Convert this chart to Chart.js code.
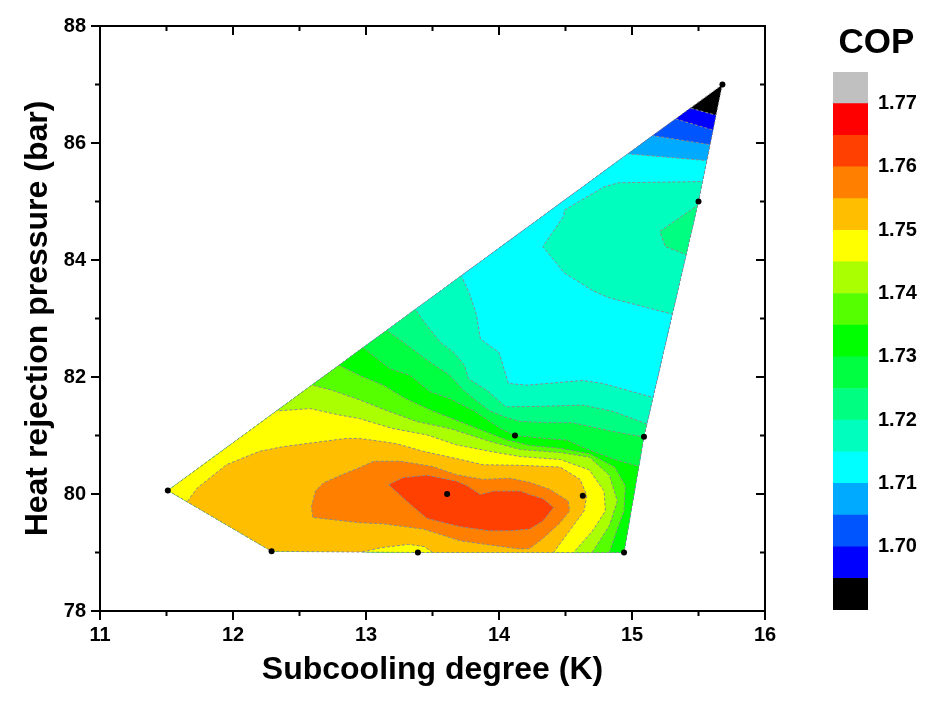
<!DOCTYPE html>
<html>
<head>
<meta charset="utf-8">
<title>COP contour</title>
<script src="https://cdn.jsdelivr.net/npm/chart.js@4"></script>
<style>
  html, body { margin: 0; padding: 0; background: #fff; overflow: hidden; }
  #wrap { position: relative; width: 928px; height: 724px; }
  #main { position: absolute; left: 0; top: 0; }
  #bar { position: absolute; left: 810px; top: 0; }
</style>
</head>
<body>
<div id="wrap">
  <canvas id="main" width="800" height="724"></canvas>
  <canvas id="bar" width="110" height="724"></canvas>
</div>
<script>
// measured points (black dots)
const subcooling = [11.51, 12.29, 13.39, 13.61, 14.12, 14.63, 14.94, 15.09, 15.50, 15.68]
const pressure = [80.06, 79.02, 79.00, 80.00, 81.00, 79.97, 79.00, 80.98, 85.00, 87.00]
// outline of the mapped area, as indices into the points above
const hull = [0, 1, 2, 6, 7, 8, 9]

// axis ticks
const xTicks = [11, 12, 13, 14, 15, 16]
const xMinor = [11.5, 12.5, 13.5, 14.5, 15.5]
const yTicks = [78, 80, 82, 84, 86, 88]
const yMinor = [79, 81, 83, 85, 87]

// colour scale: lower bound of each band
const bandLows = [1.690, 1.695, 1.700, 1.705, 1.710, 1.715, 1.720, 1.725, 1.730, 1.735, 1.740, 1.745, 1.750, 1.755, 1.760, 1.765, 1.770]
const bandColors = ['#000000', '#0000FF', '#0055FF', '#00AAFF', '#00FFFF', '#00FFBF', '#00FF80', '#00FF40', '#00FF00', '#55FF00', '#AAFF00', '#FFFF00', '#FFBF00', '#FF8000', '#FF4000', '#FF0000', '#C0C0C0']
const cbTicks = [1.70, 1.71, 1.72, 1.73, 1.74, 1.75, 1.76, 1.77]

const cop1695 = [[11.2, 86.69], [15.29, 86.69], [15.45, 86.59], [15.64, 86.47], [15.81, 86.37], [15.81, 78.5], [11.2, 78.5]]
const cop1700 = [[11.2, 86.53], [15.14, 86.53], [15.33, 86.41], [15.61, 86.22], [15.81, 86.09], [15.81, 78.5], [11.2, 78.5]]
const cop1705 = [[11.2, 86.19], [14.98, 86.19], [15.17, 86.12], [15.59, 85.97], [15.81, 85.88], [15.81, 78.5], [11.2, 78.5]]
const cop1710 = [[11.2, 85.86], [14.76, 85.86], [14.99, 85.81], [15.56, 85.70], [15.81, 85.65], [15.81, 78.5], [11.2, 78.5]]
const cop1715a = [[15.74, 85.35], [15.53, 85.34], [14.90, 85.32], [14.79, 85.25], [14.49, 84.85], [14.49, 84.76], [14.33, 84.23], [14.49, 83.78], [14.71, 83.47], [14.82, 83.36], [15.31, 83.07], [15.51, 82.97], [15.74, 82.97]]
const cop1715b = [[11.2, 83.92], [13.67, 83.92], [13.72, 83.72], [13.78, 83.41], [13.83, 83.07], [13.86, 82.65], [14.00, 82.42], [14.03, 82.20], [14.07, 81.89], [14.21, 81.86], [14.63, 81.94], [14.78, 81.89], [15.19, 81.63], [15.36, 81.58], [15.36, 78.5], [11.2, 78.5]]
const cop1720a = [[15.66, 84.95], [15.49, 84.93], [15.21, 84.49], [15.25, 84.23], [15.41, 84.09], [15.66, 84.05]]
const cop1720b = [[11.2, 83.31], [13.32, 83.31], [13.37, 83.16], [13.43, 82.96], [13.49, 82.79], [13.56, 82.59], [13.66, 82.42], [13.74, 82.20], [13.77, 81.97], [13.91, 81.77], [14.05, 81.49], [14.35, 81.50], [14.63, 81.52], [14.86, 81.41], [15.12, 81.19], [15.29, 81.12], [15.29, 78.5], [11.2, 78.5]]
const cop1725 = [[11.2, 82.93], [13.09, 82.93], [13.16, 82.79], [13.29, 82.58], [13.44, 82.32], [13.63, 82.03], [13.73, 81.78], [13.82, 81.61], [13.93, 81.42], [14.05, 81.31], [14.16, 81.24], [14.35, 81.22], [14.55, 81.22], [14.83, 81.08], [15.10, 80.97], [15.25, 80.92], [15.25, 78.5], [11.2, 78.5]]
const cop1730 = [[11.2, 82.63], [12.92, 82.63], [12.99, 82.48], [13.18, 82.14], [13.33, 82.03], [13.48, 81.75], [13.63, 81.63], [13.82, 81.41], [14.01, 81.12], [14.12, 81.00], [14.35, 80.95], [14.51, 80.92], [14.65, 80.78], [14.87, 80.59], [15.07, 80.46], [15.21, 80.39], [15.21, 78.5], [11.2, 78.5]]
const cop1735 = [[11.2, 82.34], [12.73, 82.34], [12.80, 82.20], [12.95, 82.03], [13.13, 81.86], [13.29, 81.64], [13.48, 81.44], [13.67, 81.27], [13.86, 81.10], [14.05, 80.93], [14.23, 80.83], [14.46, 80.78], [14.68, 80.69], [14.87, 80.46], [14.95, 80.14], [14.94, 79.71], [14.88, 79.34], [14.83, 79.00], [14.81, 78.5], [11.2, 78.5]]
const cop1740 = [[11.2, 82.00], [12.53, 82.00], [12.60, 81.86], [12.75, 81.77], [12.95, 81.61], [13.14, 81.44], [13.38, 81.24], [13.63, 81.12], [13.93, 80.90], [14.16, 80.76], [14.46, 80.71], [14.68, 80.63], [14.83, 80.32], [14.89, 79.88], [14.83, 79.46], [14.70, 79.00], [14.68, 78.5], [11.2, 78.5]]
const cop1745 = [[11.2, 81.54], [12.25, 81.54], [12.33, 81.42], [12.58, 81.46], [12.80, 81.35], [12.95, 81.29], [13.20, 81.12], [13.46, 81.01], [13.68, 80.84], [13.93, 80.73], [14.16, 80.64], [14.46, 80.59], [14.68, 80.41], [14.79, 80.05], [14.80, 79.71], [14.70, 79.36], [14.56, 79.00], [14.55, 78.5], [11.2, 78.5]]
const cop1750 = [[11.60, 79.76], [11.66, 79.88], [11.73, 80.10], [11.95, 80.50], [12.20, 80.73], [12.38, 80.81], [12.58, 80.87], [12.85, 80.95], [12.95, 80.95], [13.11, 80.90], [13.23, 80.86], [13.43, 80.73], [13.71, 80.59], [13.88, 80.50], [14.16, 80.49], [14.46, 80.46], [14.61, 80.25], [14.66, 79.98], [14.64, 79.71], [14.53, 79.37], [14.41, 79.00], [14.41, 78.5], [13.56, 78.5], [13.50, 79.00], [13.44, 79.10], [13.32, 79.14], [13.11, 79.08], [12.95, 79.00], [12.89, 78.5], [11.56, 78.5]]
const cop1755 = [[12.60, 79.60], [12.59, 79.78], [12.62, 80.05], [12.68, 80.19], [12.82, 80.33], [12.95, 80.45], [13.06, 80.56], [13.26, 80.56], [13.50, 80.47], [13.68, 80.33], [13.88, 80.25], [14.08, 80.27], [14.23, 80.20], [14.38, 80.08], [14.52, 79.88], [14.53, 79.71], [14.46, 79.51], [14.33, 79.24], [14.23, 79.07], [14.16, 79.06], [13.96, 79.12], [13.71, 79.20], [13.43, 79.40], [13.13, 79.49], [12.95, 79.51], [12.60, 79.60]]
const cop1760 = [[13.17, 80.16], [13.28, 80.28], [13.46, 80.32], [13.68, 80.22], [13.76, 80.14], [13.86, 79.99], [13.96, 80.05], [14.16, 80.05], [14.23, 79.99], [14.33, 79.92], [14.41, 79.77], [14.33, 79.54], [14.23, 79.40], [14.08, 79.37], [13.93, 79.37], [13.71, 79.44], [13.46, 79.58], [13.33, 79.83], [13.17, 80.16]]

const regions = [
  [1.695, cop1695], [1.700, cop1700], [1.705, cop1705], [1.710, cop1710],
  [1.715, cop1715a], [1.715, cop1715b], [1.720, cop1720a], [1.720, cop1720b],
  [1.725, cop1725], [1.730, cop1730], [1.735, cop1735], [1.740, cop1740],
  [1.745, cop1745], [1.750, cop1750], [1.755, cop1755], [1.760, cop1760]
]

const FONT = "'Liberation Sans', Arial, Helvetica, sans-serif"
Chart.defaults.font.family = FONT
Chart.defaults.color = '#000'

const colorFor = level => bandColors[bandLows.findIndex(v => Math.abs(v - level) < 1e-6)]
const toXY = pts => pts.map(([x, y]) => ({ x, y }))
const hullXY = hull.map(i => ({ x: subcooling[i], y: pressure[i] }))

const datasets = [{
  data: hullXY,
  backgroundColor: bandColors[0],
  borderColor: 'rgba(0,0,0,0)',
  borderWidth: 0,
  fill: 'shape',
  pointRadius: 0,
  order: 100
}]

regions.forEach(([level, pts], k) => {
  datasets.push({
    data: toXY(pts),
    backgroundColor: colorFor(level),
    borderColor: '#8a8a8a',
    borderWidth: 1,
    borderDash: [3, 2],
    fill: 'shape',
    pointRadius: 0,
    order: 90 - k
  })
})

// dashed outline of the mapped area and the measured points, not clipped
datasets.push({
  data: hullXY.concat([hullXY[0]]),
  borderColor: '#8a8a8a',
  borderWidth: 1,
  borderDash: [3, 2],
  fill: false,
  pointRadius: 0,
  noClip: true,
  order: 1
})
datasets.push({
  data: subcooling.map((x, i) => ({ x, y: pressure[i] })),
  showLine: false,
  pointRadius: 3,
  pointBackgroundColor: '#000',
  pointBorderWidth: 0,
  noClip: true,
  order: 0
})

// contour fills are clipped to the outline of the measured area
const domainClip = {
  id: 'domainClip',
  beforeDatasetsDraw(chart) {
    const { ctx, scales: { x, y } } = chart
    ctx.save()
    ctx.beginPath()
    hullXY.forEach((p, k) => {
      const px = x.getPixelForValue(p.x)
      const py = y.getPixelForValue(p.y)
      if (k) ctx.lineTo(px, py)
      else ctx.moveTo(px, py)
    })
    ctx.closePath()
    ctx.clip()
    chart.$clipped = true
  },
  beforeDatasetDraw(chart, args) {
    if (chart.$clipped && chart.data.datasets[args.index].noClip) {
      chart.ctx.restore()
      chart.$clipped = false
    }
  },
  afterDatasetsDraw(chart) {
    if (chart.$clipped) {
      chart.ctx.restore()
      chart.$clipped = false
    }
  }
}

// box frame with ticks: out on bottom/left, in on top/right
const frame = {
  id: 'frame',
  afterDraw(chart) {
    const { ctx, chartArea: a, scales: { x, y } } = chart
    ctx.save()
    ctx.strokeStyle = '#000'
    ctx.lineWidth = 2
    ctx.strokeRect(a.left, a.top, a.right - a.left, a.bottom - a.top)
    ctx.beginPath()
    const xt = (v, len) => {
      const p = x.getPixelForValue(v)
      ctx.moveTo(p, a.bottom); ctx.lineTo(p, a.bottom + len)
      ctx.moveTo(p, a.top); ctx.lineTo(p, a.top + len)
    }
    const yt = (v, len) => {
      const p = y.getPixelForValue(v)
      ctx.moveTo(a.left, p); ctx.lineTo(a.left - len, p)
      ctx.moveTo(a.right, p); ctx.lineTo(a.right - len, p)
    }
    xTicks.forEach(v => xt(v, 9))
    xMinor.forEach(v => xt(v, 5))
    yTicks.forEach(v => yt(v, 9))
    yMinor.forEach(v => yt(v, 5))
    ctx.stroke()
    ctx.restore()
  }
}

new Chart(document.getElementById('main'), {
  type: 'line',
  data: { datasets },
  plugins: [domainClip, frame],
  options: {
    responsive: false,
    animation: false,
    layout: { padding: { left: 0, top: 21, right: 35, bottom: 0 } },
    plugins: {
      legend: { display: false },
      tooltip: { enabled: false }
    },
    scales: {
      x: {
        type: 'linear',
        min: 11,
        max: 16,
        afterBuildTicks: s => { s.ticks = xTicks.map(v => ({ value: v })) },
        afterFit: s => { s.height = 113 },
        grid: { display: false, drawTicks: false },
        border: { display: false },
        ticks: { font: { size: 20, weight: 'bold' }, color: '#000', padding: 12, maxRotation: 0 },
        title: {
          display: true,
          text: 'Subcooling degree (K)',
          font: { size: 32, weight: 'bold' },
          color: '#000',
          padding: { top: 0, bottom: 35 }
        }
      },
      y: {
        type: 'linear',
        min: 78,
        max: 88,
        afterBuildTicks: s => { s.ticks = yTicks.map(v => ({ value: v })) },
        afterFit: s => { s.width = 100 },
        grid: { display: false, drawTicks: false },
        border: { display: false },
        ticks: { font: { size: 20, weight: 'bold' }, color: '#000', padding: 14 },
        title: {
          display: true,
          text: 'Heat rejection pressure (bar)',
          font: { size: 32, weight: 'bold' },
          color: '#000',
          padding: { top: 19, bottom: 0 }
        }
      }
    }
  }
})

// colour bar
new Chart(document.getElementById('bar'), {
  type: 'bar',
  data: {
    labels: [''],
    datasets: bandLows.map((lo, i) => ({
      data: [[lo, i + 1 < bandLows.length ? bandLows[i + 1] : 1.775]],
      backgroundColor: bandColors[i],
      borderWidth: 0,
      barPercentage: 1,
      categoryPercentage: 1,
      grouped: false
    }))
  },
  options: {
    responsive: false,
    animation: false,
    layout: { padding: { left: 23, right: 0, top: 0, bottom: 114 } },
    plugins: {
      legend: { display: false },
      tooltip: { enabled: false },
      title: {
        display: true,
        text: 'COP',
        font: { size: 35, weight: 'bold' },
        color: '#000',
        padding: { top: 22, bottom: 8 }
      }
    },
    scales: {
      x: { display: false },
      y: {
        position: 'right',
        min: 1.69,
        max: 1.775,
        afterBuildTicks: s => { s.ticks = cbTicks.map(v => ({ value: v })) },
        afterFit: s => { s.width = 52 },
        grid: { display: false, drawTicks: false },
        border: { display: false },
        ticks: {
          font: { size: 20, weight: 'bold' },
          color: '#000',
          padding: 10,
          callback: v => Number(v).toFixed(2)
        }
      }
    }
  }
})
</script>
</body>
</html>
